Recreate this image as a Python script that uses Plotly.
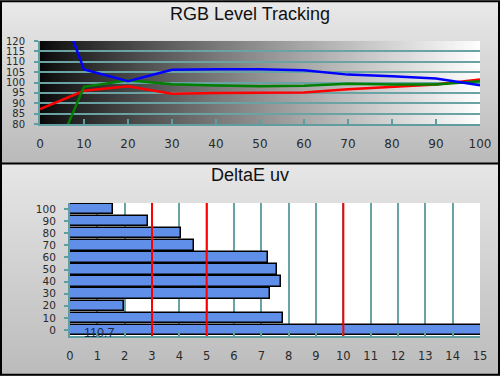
import zlib, struct, base64
import plotly.graph_objects as go

# ---------------- data ----------------
levels = [0, 10, 20, 30, 40, 50, 60, 70, 80, 90, 100]
red_vals = [87.2, 96.0, 98.2, 94.6, 94.9, 95.2, 95.2, 96.8, 97.9, 99.0, 101.4]
green_vals = [48.2, 97.9, 101.1, 99.2, 98.6, 98.2, 98.4, 99.4, 99.0, 99.0, 100.6]
blue_vals = [163.0, 106.3, 100.6, 106.1, 106.4, 106.4, 105.9, 103.8, 103.0, 101.9, 98.7]

deltae_levels = [0, 10, 20, 30, 40, 50, 60, 70, 80, 90, 100]
deltae_vals = [110.7, 7.80, 1.96, 7.33, 7.71, 7.56, 7.26, 4.55, 4.07, 2.87, 1.56]
thresholds = [3, 5, 10]

top_title = "RGB Level Tracking"
bottom_title = "DeltaE uv"

# ---------------- helpers ----------------
def png_uri(width, height, fn):
    raw = bytearray()
    for yy in range(height):
        raw.append(0)
        for xx in range(width):
            raw.extend(fn(xx, yy))
    def chunk(t, d):
        return struct.pack('>I', len(d)) + t + d + struct.pack('>I', zlib.crc32(t + d) & 0xffffffff)
    png = (b'\x89PNG\r\n\x1a\n'
           + chunk(b'IHDR', struct.pack('>IIBBBBB', width, height, 8, 2, 0, 0, 0))
           + chunk(b'IDAT', zlib.compress(bytes(raw)))
           + chunk(b'IEND', b''))
    return 'data:image/png;base64,' + base64.b64encode(png).decode()

def hgrad(x, y):
    t = x / 255.0
    v = int(8 + 247 * t ** 0.85)
    return (v, v, v)

def vgrad(top, bottom, n):
    def f(x, y):
        t = y / (n - 1)
        v = int(top + (bottom - top) * t)
        return (v, v, v)
    return f

plot_grad = png_uri(256, 1, hgrad)
top_panel = png_uri(1, 128, vgrad(234, 186, 128))
bot_panel = png_uri(1, 128, vgrad(231, 188, 128))
white = png_uri(1, 1, lambda x, y: (255, 255, 255))

W, H = 500, 376
def py(px):
    return 1 - px / H

teal = "#5f9ea0"
grid = "#6aa3a4"
TFONT = "Liberation Sans, Arial, sans-serif"
NFONT = "DejaVu Sans, Verdana, sans-serif"
top_xfont = dict(family=NFONT, size=12, color="#2a2a2a")
top_yfont = dict(family=NFONT, size=10, color="#2a2a2a")
bot_xfont = dict(family=NFONT, size=11.5, color="#2a2a2a")
bot_yfont = dict(family=NFONT, size=10.5, color="#2a2a2a")

fig = go.Figure()

fig.add_trace(go.Scatter(x=levels, y=red_vals, mode="lines",
                         line=dict(color="#ff0000", width=2.5), xaxis="x", yaxis="y"))
fig.add_trace(go.Scatter(x=levels, y=green_vals, mode="lines",
                         line=dict(color="#008000", width=2.5), xaxis="x", yaxis="y"))
fig.add_trace(go.Scatter(x=levels, y=blue_vals, mode="lines",
                         line=dict(color="#0000ff", width=2.5), xaxis="x", yaxis="y"))

fig.add_trace(go.Bar(x=deltae_vals, y=deltae_levels, orientation="h", width=8.6,
                     marker=dict(color="#5f8fe8", line=dict(color="#000000", width=1.5)),
                     xaxis="x2", yaxis="y2"))

shapes = []
for t in thresholds:
    shapes.append(dict(type="line", xref="x2", yref="y2 domain", x0=t, x1=t, y0=0, y1=1,
                       line=dict(color="#ff0000", width=2), layer="above"))
# borders
shapes.append(dict(type="rect", xref="paper", yref="paper", x0=0.002, x1=0.998, y0=0.003, y1=0.997,
                   line=dict(color="#000000", width=2), layer="above"))
shapes.append(dict(type="line", xref="paper", yref="paper", x0=0, x1=1, y0=py(163.5), y1=py(163.5),
                   line=dict(color="#000000", width=2), layer="above"))

images = [
    dict(source=top_panel, xref="paper", yref="paper", x=0, y=1, sizex=1, sizey=164 / H,
         xanchor="left", yanchor="top", sizing="stretch", layer="below"),
    dict(source=bot_panel, xref="paper", yref="paper", x=0, y=py(163), sizex=1, sizey=(H - 163) / H,
         xanchor="left", yanchor="top", sizing="stretch", layer="below"),
    dict(source=plot_grad, xref="x domain", yref="y domain", x=0, y=1, sizex=1, sizey=1,
         xanchor="left", yanchor="top", sizing="stretch", layer="below"),
    dict(source=white, xref="x2 domain", yref="y2 domain", x=0, y=1, sizex=1, sizey=1,
         xanchor="left", yanchor="top", sizing="stretch", layer="below"),
]

annotations = [
    dict(text=top_title, xref="paper", yref="paper", x=0.5, y=py(14), showarrow=False,
         font=dict(family=TFONT, size=18, color="#111111"),
         xanchor="center", yanchor="middle"),
    dict(text=bottom_title, xref="paper", yref="paper", x=0.5, y=py(175), showarrow=False,
         font=dict(family=TFONT, size=18, color="#111111"),
         xanchor="center", yanchor="middle"),
    dict(text=f"{deltae_vals[0]}", xref="x2", yref="y2", x=0.45, y=deltae_levels[0], showarrow=False,
         xanchor="left", yanchor="middle", yshift=-3,
         font=dict(family=TFONT, size=12.5, color="#1b2a4a")),
]

fig.update_layout(
    width=W, height=H, margin=dict(l=0, r=0, t=0, b=0, pad=0, autoexpand=False),
    autosize=False,
    paper_bgcolor="#d0d0d0", plot_bgcolor="rgba(0,0,0,0)",
    showlegend=False, bargap=0,
    shapes=shapes, images=images, annotations=annotations,
    xaxis=dict(domain=[40 / W, 480 / W], range=[0, 100], tickvals=levels, anchor="y",
               automargin=False,
               showgrid=False, zeroline=False, showline=True, linecolor=teal, linewidth=2,
               ticks="inside", ticklen=5, tickwidth=2, tickcolor=teal, tickfont=top_xfont,
               ticklabelstandoff=8),
    yaxis=dict(domain=[py(124), py(41)], range=[80, 120], dtick=5, anchor="x",
               automargin=False,
               showgrid=True, gridcolor=grid, gridwidth=1.5, zeroline=False,
               showline=True, linecolor=teal, linewidth=2,
               ticks="outside", ticklen=4, tickwidth=2, tickcolor=teal, tickfont=top_yfont,
               ticklabelstandoff=7),
    xaxis2=dict(domain=[70 / W, 480 / W], range=[0, 15], dtick=1, anchor="y2",
                automargin=False,
                showgrid=True, gridcolor=grid, gridwidth=1.5, zeroline=False,
                showline=True, linecolor=teal, linewidth=2,
                ticks="inside", ticklen=5, tickwidth=2, tickcolor=teal, tickfont=bot_xfont,
                ticklabelstandoff=8),
    yaxis2=dict(domain=[py(336), py(203)], range=[-5, 105], tickvals=deltae_levels, anchor="x2",
                automargin=False,
                showgrid=False, zeroline=False, showline=True, linecolor=teal, linewidth=2,
                ticks="outside", ticklen=4, tickwidth=2, tickcolor=teal, tickfont=bot_yfont,
                ticklabelstandoff=6),
)

fig.write_html("out.html", config={"displayModeBar": False, "responsive": False},
               post_script="document.documentElement.style.margin='0';document.body.style.margin='0';"
                           "document.documentElement.style.overflow='hidden';document.body.style.overflow='hidden';")
